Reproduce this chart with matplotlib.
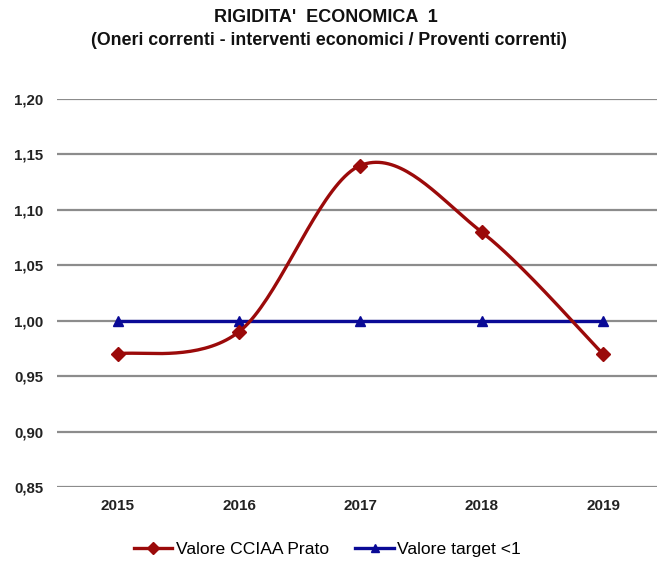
import numpy as np
import matplotlib.pyplot as plt
from matplotlib.lines import Line2D

plt.rcParams["font.family"] = ["Liberation Sans", "DejaVu Sans"]

# data
years = ["2015", "2016", "2017", "2018", "2019"]
valore_cciaa = [0.97, 0.99, 1.14, 1.08, 0.97]
valore_target = [1.00, 1.00, 1.00, 1.00, 1.00]
y_ticks = [0.85, 0.90, 0.95, 1.00, 1.05, 1.10, 1.15, 1.20]

RED = "#9b0a0a"
BLUE = "#0a0a96"


def smooth_curve(x, y, steps=40):
    """Excel-like smoothed line: Bezier segments with Catmull-Rom control points."""
    x = np.asarray(x, float)
    y = np.asarray(y, float)
    px = np.concatenate([[x[0]], x, [x[-1]]])
    py = np.concatenate([[y[0]], y, [y[-1]]])
    t = np.linspace(0, 1, steps)[:, None]
    out = []
    for i in range(1, len(px) - 2):
        p0 = np.array([px[i], py[i]])
        p3 = np.array([px[i + 1], py[i + 1]])
        c1 = p0 + (np.array([px[i + 1], py[i + 1]]) - np.array([px[i - 1], py[i - 1]])) / 6
        c2 = p3 - (np.array([px[i + 2], py[i + 2]]) - np.array([px[i], py[i]])) / 6
        seg = ((1 - t) ** 3) * p0 + 3 * ((1 - t) ** 2) * t * c1 + 3 * (1 - t) * t ** 2 * c2 + t ** 3 * p3
        out.append(seg)
    pts = np.vstack(out)
    return pts[:, 0], pts[:, 1]


fig = plt.figure(figsize=(6.57, 5.61), dpi=100)
ax = fig.add_axes([0.0868, 0.132, 0.9132, 0.6915])

xs = np.arange(len(years))

# gridlines
for v in y_ticks:
    ax.axhline(v, color="#8c8c8c", linewidth=1.6, zorder=1)

# target line
ax.plot(xs, valore_target, color=BLUE, linewidth=2.4, marker="^",
        markersize=7, zorder=3)

# smoothed CCIAA line
sx, sy = smooth_curve(xs, valore_cciaa)
ax.plot(sx, sy, color=RED, linewidth=2.4, zorder=4)
ax.plot(xs, valore_cciaa, linestyle="none", color=RED, marker="D",
        markersize=7, zorder=5)

ax.set_xlim(-0.5, 4.445)
ax.set_ylim(0.85, 1.20)
ax.set_yticks(y_ticks)
ax.set_yticklabels([f"{v:.2f}".replace(".", ",") for v in y_ticks],
                   fontsize=10.8, fontweight="bold", color="#222222")
ax.set_xticks(xs)
ax.set_xticklabels(years, fontsize=11, fontweight="bold", color="#222222")
ax.tick_params(axis="both", length=0)
ax.tick_params(axis="y", pad=10)
ax.tick_params(axis="x", pad=9)
for s in ax.spines.values():
    s.set_visible(False)

fig.text(0.496, 0.968, "RIGIDITA'  ECONOMICA  1", ha="center", va="center",
         fontsize=13, fontweight="bold", color="#111111")
fig.text(0.5, 0.928, "(Oneri correnti - interventi economici / Proventi correnti)",
         ha="center", va="center", fontsize=12.8, fontweight="bold", color="#111111")

handles = [
    Line2D([], [], color=RED, linewidth=2.4, marker="D", markersize=6),
    Line2D([], [], color=BLUE, linewidth=2.4, marker="^", markersize=6),
]
fig.legend(handles, ["Valore CCIAA Prato", "Valore target <1"],
           loc="center", bbox_to_anchor=(0.4985, 0.02), ncol=2, frameon=False,
           fontsize=12.6, handlelength=2.2, handletextpad=0.2, columnspacing=1.5,
           borderpad=0.0)

plt.savefig("out.png", dpi=100)
plt.close()
